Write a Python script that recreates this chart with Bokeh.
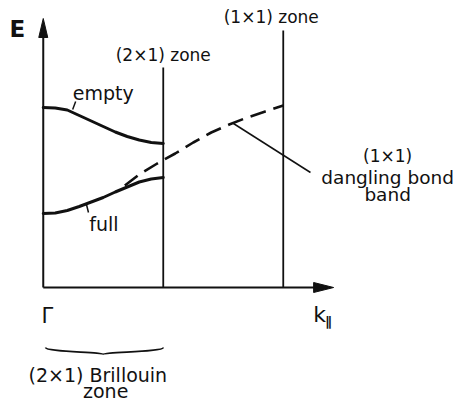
from bokeh.plotting import figure
from bokeh.models import Range1d, ColumnDataSource
from bokeh.core.properties import value
from bokeh.embed import file_html
from bokeh.resources import INLINE

# Wave vector k (0 = Gamma, 1 = (2x1) zone boundary, 2 = (1x1) zone boundary)
k_band = [0.0, 0.1, 0.2, 0.3, 0.4, 0.5, 0.6, 0.7, 0.8, 0.9, 1.0]
e_empty = [1.80, 1.795, 1.775, 1.72, 1.665, 1.61, 1.555, 1.51, 1.475, 1.45, 1.44]
e_full = [0.74, 0.745, 0.77, 0.81, 0.855, 0.90, 0.955, 1.005, 1.055, 1.085, 1.10]

# Unreconstructed (1x1) dangling bond band
k_dangling = [0.68, 0.8, 0.95, 1.1, 1.25, 1.4, 1.55, 1.7, 1.85, 2.0]
e_dangling = [1.02, 1.13, 1.24, 1.34, 1.45, 1.55, 1.63, 1.70, 1.76, 1.82]

# Zone boundaries and their labels
k_zone = [1.0, 2.0]
e_zone_top = [2.20, 2.57]
zone_labels = ["(2\u00d71) zone", "(1\u00d71) zone"]
k_zone_label = [1.0, 1.9]
e_zone_label = [2.33, 2.71]

# Axis extents
K_AXIS_END = 2.42
E_AXIS_END = 2.69

FONT = "DejaVu Sans"
INK = "#111111"

p = figure(width=465, height=402, x_range=Range1d(-0.35625, 3.51875),
           y_range=Range1d(-1.15, 2.87), output_backend="svg",
           toolbar_location=None, min_border=0,
           x_axis_location=None, y_axis_location=None)
p.outline_line_color = None
p.grid.visible = False
p.background_fill_color = "white"

# Axes with arrowheads
p.line([0, 0], [0, E_AXIS_END - 0.15], line_color=INK, line_width=2)
p.line([0, K_AXIS_END - 0.12], [0, 0], line_color=INK, line_width=2)
p.patch([0, -0.0375, 0.0375], [E_AXIS_END, E_AXIS_END - 0.19, E_AXIS_END - 0.19],
        fill_color=INK, line_color=INK)
p.patch([K_AXIS_END, K_AXIS_END - 0.167, K_AXIS_END - 0.167], [0, 0.05, -0.05],
        fill_color=INK, line_color=INK)

# Zone boundary lines
zsrc = ColumnDataSource(dict(x0=k_zone, y0=[0, 0], x1=k_zone, y1=e_zone_top))
p.segment(x0="x0", y0="y0", x1="x1", y1="y1", source=zsrc,
          line_color=INK, line_width=1.8)

# Bands
p.line(k_band, e_empty, line_color=INK, line_width=3, line_cap="round")
p.line(k_band, e_full, line_color=INK, line_width=3, line_cap="round")
p.line(k_dangling, e_dangling, line_color=INK, line_width=2.6,
       line_dash="16 8")

# Pointer marks for the labels
p.segment(x0=[0.245, 0.36, 1.585], y0=[1.78, 0.83, 1.64],
          x1=[0.27, 0.377, 2.227], y1=[1.86, 0.75, 1.15],
          line_color=INK, line_width=1.5)

# Brace under the (2x1) Brillouin zone
p.bezier(x0=[0.02, 0.50], y0=[-0.60, -0.67], x1=[0.50, 1.0], y1=[-0.67, -0.60],
         cx0=[0.02, 0.50], cy0=[-0.645, -0.645], cx1=[0.50, 1.0], cy1=[-0.645, -0.645],
         line_color=INK, line_width=1.8)

def label(x, y, txt, size, align="center", weight="normal"):
    p.text(x=[x], y=[y], text=[txt], text_font=value(FONT),
           text_font_size=value(f"{size}px"), text_align=align,
           text_baseline="middle", text_color=INK,
           text_font_style=weight)

label(-0.215, 2.59, "E", 23, weight="bold")
for kx, ey, t in zip(k_zone_label, e_zone_label, zone_labels):
    label(kx, ey, t, 17)
label(0.50, 1.95, "empty", 19)
label(0.505, 0.64, "full", 19)
label(2.87, 1.32, "(1\u00d71)", 17)
label(2.87, 1.10, "dangling bond", 18.5)
label(2.87, 0.93, "band", 18.5)
label(0.035, -0.28, "\u0393", 21)
label(0.455, -0.875, "(2\u00d71) Brillouin", 19)
label(0.52, -1.03, "zone", 19)
label(2.25, -0.27, "k", 22, align="left")
label(2.35, -0.34, "\u2225", 13, align="left", weight="bold")

open("out.html", "w").write(file_html(p, INLINE))
